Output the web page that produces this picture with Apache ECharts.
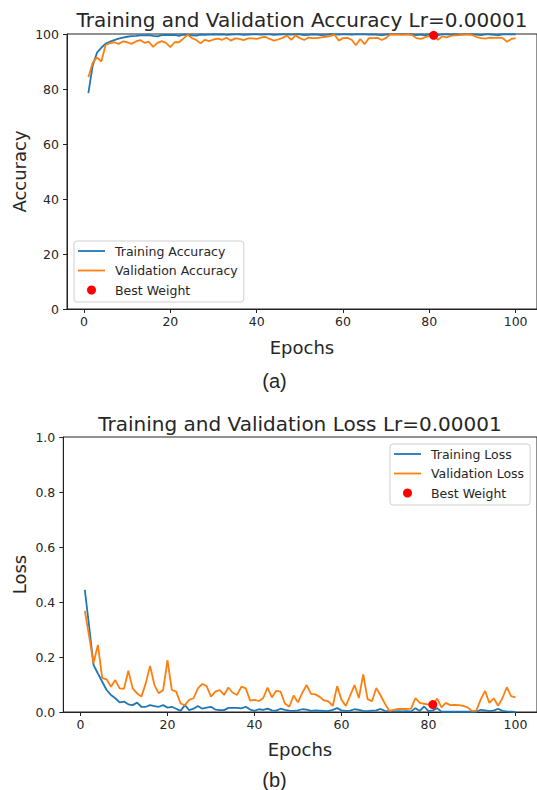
<!DOCTYPE html>
<html>
<head>
<meta charset="utf-8">
<script src="https://cdn.jsdelivr.net/npm/echarts@6/dist/echarts.min.js"></script>
<style>
html,body{margin:0;padding:0;background:#fff;}
#chart{width:537px;height:790px;}
</style>
</head>
<body>
<div id="chart"></div>
<script>
const epochs = [1,2,3,4,5,6,7,8,9,10,11,12,13,14,15,16,17,18,19,20,21,22,23,24,25,26,27,28,29,30,31,32,33,34,35,36,37,38,39,40,41,42,43,44,45,46,47,48,49,50,51,52,53,54,55,56,57,58,59,60,61,62,63,64,65,66,67,68,69,70,71,72,73,74,75,76,77,78,79,80,81,82,83,84,85,86,87,88,89,90,91,92,93,94,95,96,97,98,99,100];

const trainAcc = [78.5,88.5,93.2,95.0,96.5,97.2,97.8,98.3,98.7,99.0,
99.2,99.3,99.5,99.5,99.6,99.3,99.1,99.6,99.7,99.6,
99.7,99.3,99.8,99.7,99.5,99.4,99.8,99.7,99.8,99.9,
99.8,99.9,99.7,99.8,99.9,99.9,99.7,99.8,99.9,99.9,
99.8,99.9,99.9,99.7,99.8,99.9,99.9,99.8,99.9,99.9,
99.6,99.7,99.9,99.8,99.6,99.7,99.9,99.9,99.8,99.9,
99.9,99.8,99.9,99.9,99.9,99.8,99.9,99.7,99.6,99.8,
99.9,99.9,99.9,99.9,99.9,99.9,99.6,99.8,99.5,99.9,
99.9,99.6,99.9,99.9,99.8,99.9,99.7,99.9,99.9,99.9,
99.8,99.6,99.9,99.9,99.7,99.6,99.9,99.9,99.9,99.9];

const valAcc = [84.3,89.5,91.5,90.0,96.0,96.7,97.0,96.4,97.3,97.0,
96.4,97.3,97.8,96.8,97.2,95.3,96.8,97.4,96.8,95.2,
97.0,97.0,98.3,99.7,98.5,97.8,96.6,97.9,97.4,98.0,
98.3,97.9,98.6,97.6,98.4,98.2,97.8,98.4,98.4,98.2,
98.7,99.0,98.2,97.6,98.0,98.6,99.4,97.9,99.5,98.5,
97.8,98.7,98.5,98.5,98.8,99.0,99.2,99.8,97.6,98.5,
98.6,97.9,95.9,98.2,96.3,98.5,98.5,98.6,97.8,98.6,
99.9,99.8,99.8,99.7,99.9,99.6,98.5,98.2,98.8,99.3,
99.5,97.9,99.1,98.8,99.3,99.5,99.6,99.8,99.9,99.6,
98.9,98.5,98.3,98.7,98.6,98.7,98.5,97.2,98.2,98.5];

const trainLoss = [0.444,0.310,0.171,0.140,0.110,0.080,0.062,0.050,0.035,0.038,
0.028,0.025,0.034,0.019,0.019,0.025,0.021,0.019,0.025,0.016,
0.019,0.012,0.004,0.025,0.007,0.012,0.022,0.012,0.016,0.019,
0.009,0.007,0.007,0.015,0.015,0.015,0.013,0.019,0.009,0.004,
0.010,0.008,0.012,0.006,0.005,0.012,0.008,0.005,0.004,0.006,
0.010,0.009,0.004,0.006,0.005,0.004,0.003,0.008,0.014,0.006,
0.004,0.005,0.010,0.008,0.004,0.003,0.005,0.006,0.011,0.004,
0.002,0.002,0.003,0.002,0.003,0.002,0.014,0.004,0.020,0.003,
0.006,0.014,0.001,0.001,0.001,0.001,0.001,0.001,0.001,0.001,
0.001,0.008,0.006,0.003,0.005,0.012,0.004,0.002,0.001,0.000];

const valLoss = [0.368,0.274,0.177,0.244,0.123,0.119,0.092,0.116,0.086,0.084,
0.150,0.086,0.068,0.056,0.104,0.167,0.098,0.068,0.080,0.189,
0.080,0.074,0.031,0.025,0.044,0.050,0.086,0.102,0.094,0.056,
0.074,0.080,0.062,0.089,0.070,0.062,0.092,0.086,0.041,0.044,
0.040,0.050,0.089,0.053,0.077,0.074,0.031,0.019,0.060,0.035,
0.070,0.098,0.066,0.064,0.055,0.042,0.039,0.022,0.094,0.045,
0.022,0.060,0.098,0.051,0.137,0.047,0.039,0.087,0.060,0.030,
0.004,0.008,0.011,0.011,0.011,0.012,0.051,0.033,0.030,0.027,
0.027,0.049,0.017,0.033,0.025,0.026,0.025,0.022,0.017,0.004,
0.005,0.045,0.077,0.033,0.050,0.023,0.050,0.090,0.058,0.053];

const bestEpoch = [81];
const bestAcc = [99.5];
const bestLoss = [0.027];

const xTicks = [0,20,40,60,80,100];
const titles = ['Training and Validation Accuracy Lr=0.00001','Training and Validation Loss Lr=0.00001'];
const yNames = ['Accuracy','Loss'];
const xName = 'Epochs';
const captions = ['(a)','(b)'];
const legendAcc = ['Training Accuracy','Validation Accuracy','Best Weight'];
const legendLoss = ['Training Loss','Validation Loss','Best Weight'];

const BLUE = '#1f77b4', ORANGE = '#ff7f0e', RED = '#ff0000';
const TXT = '#262626';
const FONT = 'DejaVu Sans';
const LINE_ICON = 'path://M0,0 L27,0 L27,1.8 L0,1.8 Z';

const chart = echarts.init(document.getElementById('chart'), null, {renderer: 'svg'});

function pairs(xs, ys){ return xs.map((x,i)=>[x, ys[i]]); }

function xAxisDef(gi){
  return {
    type:'value', gridIndex:gi, min:-3.95, max:104.95,
    axisLine:{show:true, onZero:false, lineStyle:{color:'#222', width:1}},
    axisTick:{show:true, length:4, customValues:xTicks, lineStyle:{color:'#222'}},
    axisLabel:{show:true, customValues:xTicks, margin:6, color:TXT, fontFamily:FONT, fontSize:12.5},
    splitLine:{show:false}
  };
}
function yAxisDef(gi, max, fmt){
  return {
    type:'value', gridIndex:gi, min:0, max:max, interval:max/5,
    axisLine:{show:true, onZero:false, lineStyle:{color:'#222', width:1}},
    axisTick:{show:true, length:4, lineStyle:{color:'#222'}},
    axisLabel:{show:true, margin:8, color:TXT, fontFamily:FONT, fontSize:12.5, formatter:fmt},
    splitLine:{show:false}
  };
}
function lineSeries(name, xi, data, color){
  return {name:name, type:'line', xAxisIndex:xi, yAxisIndex:xi, data:data,
    symbol:'none', showSymbol:false, lineStyle:{color:color, width:1.8}, itemStyle:{color:color},
    animation:false, z:2};
}
function legendDef(names, left, top){
  return {
    orient:'vertical', left:left, top:top, itemWidth:27, itemHeight:9, itemGap:5.5,
    padding:[3,6,5,4], backgroundColor:'rgba(255,255,255,0.8)', borderColor:'#d0d0d0', borderWidth:1, borderRadius:3,
    textStyle:{color:TXT, fontFamily:FONT, fontSize:12.5, lineHeight:14, padding:[0,0,0,5]},
    data:[{name:names[0], icon:LINE_ICON},{name:names[1], icon:LINE_ICON},{name:names[2], icon:'circle'}],
    selectedMode:false
  };
}
function txt(x, y, text, size, family, rot){
  return {type:'text', x:x, y:y, rotation:rot||0, silent:true,
    style:{text:text, fill:TXT, font: size+'px "'+family+'"', align:'center', verticalAlign:'middle'}};
}
function bestSeries(name, xi, data){
  return {name:name, type:'scatter', xAxisIndex:xi, yAxisIndex:xi, data:data,
    symbol:'circle', symbolSize:9, itemStyle:{color:RED, opacity:1}, z:3, animation:false};
}

const option = {
  animation:false,
  backgroundColor:'#ffffff',
  grid:[
    {left:67, top:34, width:470.4, height:275, show:true, borderColor:'#222', borderWidth:1, backgroundColor:'transparent', containLabel:false},
    {left:63.3, top:437, width:474.7, height:275, show:true, borderColor:'#222', borderWidth:1, backgroundColor:'transparent', containLabel:false}
  ],
  xAxis:[xAxisDef(0), xAxisDef(1)],
  yAxis:[yAxisDef(0, 100, v=>String(v)), yAxisDef(1, 1, v=>v.toFixed(1))],
  legend:[legendDef(legendAcc, 74, 241), legendDef(legendLoss, 390, 444)],
  series:[
    lineSeries(legendAcc[0], 0, pairs(epochs, trainAcc), BLUE),
    lineSeries(legendAcc[1], 0, pairs(epochs, valAcc), ORANGE),
    bestSeries(legendAcc[2], 0, pairs(bestEpoch, bestAcc)),
    lineSeries(legendLoss[0], 1, pairs(epochs, trainLoss), BLUE),
    lineSeries(legendLoss[1], 1, pairs(epochs, valLoss), ORANGE),
    bestSeries(legendLoss[2], 1, pairs(bestEpoch, bestLoss))
  ],
  graphic:[
    txt(302, 20, titles[0], 20, FONT),
    txt(300, 424, titles[1], 20, FONT),
    txt(302, 347, xName, 18, FONT),
    txt(300, 749, xName, 18, FONT),
    txt(19, 171.5, yNames[0], 18, FONT, Math.PI/2),
    txt(19, 574.5, yNames[1], 18, FONT, Math.PI/2),
    txt(274.5, 381, captions[0], 20, 'Liberation Sans'),
    txt(274.5, 780, captions[1], 20, 'Liberation Sans')
  ]
};
chart.setOption(option);
</script>
</body>
</html>
